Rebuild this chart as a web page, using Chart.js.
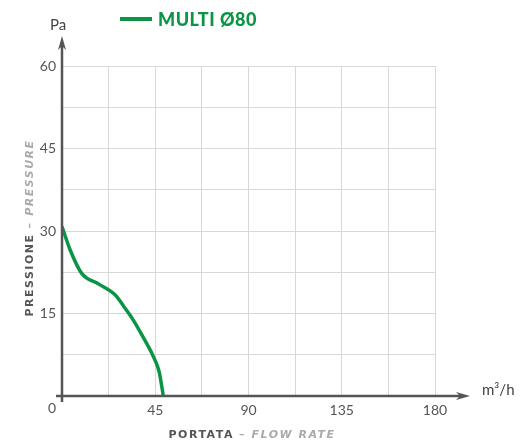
<!DOCTYPE html>
<html>
<head>
<meta charset="utf-8">
<script src="https://cdn.jsdelivr.net/npm/chart.js@4"></script>
<style>
  html, body { margin: 0; padding: 0; background: #fff; }
  #wrap { width: 521px; height: 446px; }
</style>
</head>
<body>
<div id="wrap"><canvas id="chart" width="521" height="446"></canvas></div>
<script>
// dati
var seriesName = 'MULTI Ø80';
var flowRate = [0, 4, 9.5, 18, 25.6, 30, 34.4, 39, 43.3, 46, 47, 48.9];
var pressure = [30.8, 26.5, 22.3, 20.3, 18.4, 16.2, 13.8, 10.8, 7.8, 5.5, 4.2, 0];
var xTicks = [45, 90, 135, 180];
var yTicks = [15, 30, 45, 60];

var green = '#0a9445';
var axisColor = '#555555';
var gridColor = '#d8d8d8';

var points = flowRate.map(function(x, i) { return { x: x, y: pressure[i] }; });

// scrive due pezzi di testo (normale + corsivo chiaro) centrati su cx
function twoPart(c, a, b, cx, cy) {
    var f1 = 'bold 11px "DejaVu Sans"', f2 = 'italic bold 11px "DejaVu Sans"';
    c.letterSpacing = '1.5px';
    c.font = f1;
    var w1 = c.measureText(a).width;
    c.font = f2;
    var w2 = c.measureText(b).width;
    var sx = cx - (w1 + w2) / 2;
    c.textAlign = 'left';
    c.textBaseline = 'middle';
    c.font = f1;
    c.fillStyle = '#555';
    c.fillText(a, sx, cy);
    c.font = f2;
    c.fillStyle = '#aaa';
    c.fillText(b, sx + w1, cy);
    c.letterSpacing = '0px';
}

// assi con frecce, titoli e legenda
var decor = {
    id: 'decor',
    afterDraw: function(chart) {
        var c = chart.ctx;
        var xs = chart.scales.x, ys = chart.scales.y;
        var x0 = xs.getPixelForValue(0), y0 = ys.getPixelForValue(0);
        c.save();
        c.strokeStyle = axisColor;
        c.fillStyle = axisColor;
        c.lineWidth = 2.5;
        // asse y
        c.beginPath(); c.moveTo(x0, y0 + 6); c.lineTo(x0, 44); c.stroke();
        c.beginPath(); c.moveTo(x0, 36); c.lineTo(x0 - 4, 50); c.lineTo(x0, 46); c.lineTo(x0 + 4, 50); c.closePath(); c.fill();
        // asse x
        c.beginPath(); c.moveTo(x0 - 6, y0); c.lineTo(462, y0); c.stroke();
        c.beginPath(); c.moveTo(470, y0); c.lineTo(456, y0 - 4); c.lineTo(460, y0); c.lineTo(456, y0 + 4); c.closePath(); c.fill();

        // unità
        c.font = '15px Lato';
        c.textAlign = 'center';
        c.textBaseline = 'middle';
        c.fillStyle = '#444';
        c.fillText('Pa', x0 - 4, 25);
        c.textAlign = 'left';
        c.fillText('m³/h', 482, 390);
        // zero
        c.font = '14px Lato';
        c.fillStyle = axisColor;
        c.textAlign = 'center';
        c.fillText('0', 52, 408);

        // titoli assi
        twoPart(c, 'PORTATA', ' – FLOW RATE', 252, 435);
        c.save();
        c.translate(30, 228);
        c.rotate(-Math.PI / 2);
        twoPart(c, 'PRESSIONE', ' – PRESSURE', 0, 0);
        c.restore();
        c.restore();

        // legenda
        var ds = chart.data.datasets[0];
        c.save();
        c.strokeStyle = ds.borderColor;
        c.lineWidth = 4;
        c.beginPath(); c.moveTo(120, 19); c.lineTo(152, 19); c.stroke();
        c.fillStyle = ds.borderColor;
        c.font = '900 18px Lato';
        c.letterSpacing = '0.5px';
        c.textBaseline = 'middle';
        c.fillText(ds.label, 158, 20);
        c.restore();
    }
};

new Chart(document.getElementById('chart').getContext('2d'), {
    type: 'line',
    data: {
        datasets: [{
            label: seriesName,
            data: points,
            borderColor: green,
            borderWidth: 3.5,
            pointRadius: 0,
            fill: false,
            cubicInterpolationMode: 'monotone'
        }]
    },
    options: {
        responsive: false,
        animation: false,
        layout: { padding: { left: 0, top: 66, right: 86, bottom: 0 } },
        plugins: { legend: { display: false }, tooltip: { enabled: false } },
        scales: {
            x: {
                type: 'linear',
                min: 0, max: 180,
                afterFit: function(s) { s.height = 50; },
                border: { display: false },
                grid: { color: gridColor, lineWidth: 1, drawTicks: false },
                ticks: {
                    stepSize: 22.5,
                    padding: 6,
                    color: axisColor,
                    font: { family: 'Lato', size: 14 },
                    maxRotation: 0,
                    autoSkip: false,
                    callback: function(v) { return xTicks.indexOf(v) >= 0 ? String(v) : ''; }
                }
            },
            y: {
                min: 0, max: 60,
                afterFit: function(s) { s.width = 62; },
                border: { display: false },
                grid: { color: gridColor, lineWidth: 1, drawTicks: false },
                ticks: {
                    stepSize: 7.5,
                    padding: 6,
                    color: axisColor,
                    font: { family: 'Lato', size: 14 },
                    autoSkip: false,
                    callback: function(v) { return yTicks.indexOf(v) >= 0 ? String(v) : ''; }
                }
            }
        }
    },
    plugins: [decor]
});
</script>
</body>
</html>
